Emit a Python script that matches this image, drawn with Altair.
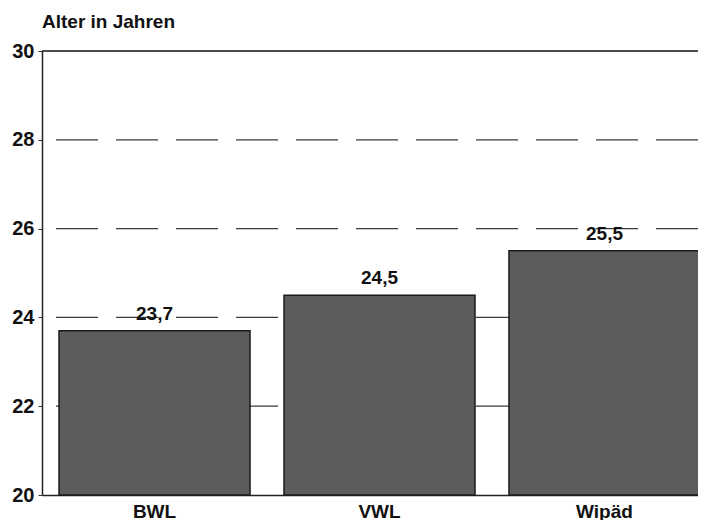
import altair as alt
import pandas as pd

categories = ["BWL", "VWL", "Wipäd"]
values = [23.7, 24.5, 25.5]
labels = ["23,7", "24,5", "25,5"]
y_ticks = [20, 22, 24, 26, 28, 30]
dashed_grid = [22, 24, 26, 28]
solid_grid = [30]

bars_df = pd.DataFrame({"Fach": categories, "Alter": values, "Label": labels})
dash_df = pd.DataFrame({"y": dashed_grid})
solid_df = pd.DataFrame({"y": solid_grid})

FONT = "Liberation Sans"

x_scale = alt.Scale(domain=categories, range=[0, 675], paddingInner=0.151, paddingOuter=0.0756)
y_scale = alt.Scale(domain=[20, 30], nice=False, zero=False)

grid_dash = alt.Chart(dash_df).mark_rule(color="#3a3a3a", strokeWidth=1.2, strokeDash=[42, 18]).encode(
    y=alt.Y("y:Q", scale=y_scale)
)
grid_solid = alt.Chart(solid_df).mark_rule(color="#111111", strokeWidth=1.5).encode(
    y=alt.Y("y:Q", scale=y_scale)
)

bars = alt.Chart(bars_df).mark_bar(fill="#5c5c5c", stroke="#1a1a1a", strokeWidth=1.5).encode(
    x=alt.X("Fach:N", scale=x_scale, sort=categories,
            axis=alt.Axis(title=None, labelAngle=0, ticks=False, domain=True, domainColor="#222222",
                          domainWidth=1.5, labelFont=FONT, labelFontSize=19, labelFontWeight="bold",
                          labelColor="#111111", labelPadding=7)),
    y=alt.Y("Alter:Q", scale=y_scale,
            axis=alt.Axis(title=None, values=y_ticks, grid=False, ticks=True, tickSize=4,
                          tickColor="#333333", domainColor="#222222", domainWidth=1.5,
                          labelFont=FONT, labelFontSize=20, labelFontWeight="bold",
                          labelColor="#111111", labelPadding=4)),
    y2=alt.datum(20),
)

text = alt.Chart(bars_df).mark_text(font=FONT, fontSize=19, fontWeight="bold", color="#111111",
                                    baseline="alphabetic", dy=-11).encode(
    x=alt.X("Fach:N", scale=x_scale, sort=categories),
    y=alt.Y("Alter:Q", scale=y_scale),
    text="Label:N",
)

chart = alt.layer(grid_dash, grid_solid, bars, text).properties(
    width=656,
    height=444,
    title=alt.TitleParams("Alter in Jahren", anchor="start", frame="group", font=FONT, fontSize=19,
                          fontWeight="bold", color="#111111", offset=9),
    autosize=alt.AutoSizeParams(type="none"),
    padding={"left": 34, "top": 43, "right": 0, "bottom": 25},
).configure_view(stroke=None)

chart.save("out.html", embed_options={"renderer": "svg", "actions": False})
